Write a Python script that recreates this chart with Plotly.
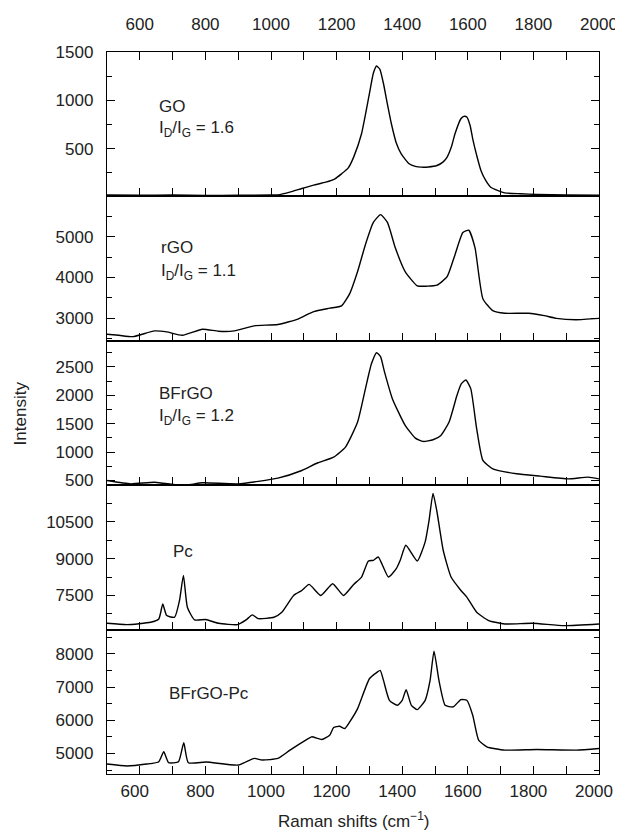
import plotly.graph_objects as go
from plotly.subplots import make_subplots

# ---- data ----
go_x = [500, 600, 700, 800, 900, 1000, 1021, 1060, 1094, 1130, 1167, 1195, 1215, 1235, 1252, 1276, 1300, 1312, 1322, 1332, 1343, 1355, 1367, 1382, 1397, 1421, 1440, 1458, 1480, 1506, 1525, 1537, 1550, 1561, 1579, 1588, 1597, 1607, 1616, 1628, 1640, 1655, 1670, 1713, 1760, 1810, 1900, 2000]
go_y = [22, 20, 22, 18, 20, 22, 24, 55, 90, 125, 155, 190, 241, 300, 414, 655, 1069, 1280, 1355, 1320, 1172, 960, 759, 560, 448, 345, 318, 310, 312, 327, 365, 414, 520, 655, 810, 835, 828, 740, 586, 420, 276, 170, 103, 45, 35, 28, 22, 20]

rgo_x = [500, 536, 579, 645, 682, 730, 791, 840, 888, 949, 1021, 1082, 1130, 1179, 1215, 1240, 1264, 1288, 1312, 1334, 1355, 1379, 1409, 1446, 1476, 1506, 1537, 1561, 1585, 1603, 1622, 1646, 1676, 1713, 1785, 1833, 1870, 1930, 2000]
rgo_y = [2600, 2575, 2542, 2683, 2658, 2575, 2725, 2675, 2683, 2808, 2842, 2975, 3158, 3242, 3300, 3600, 4142, 4808, 5350, 5542, 5350, 4725, 4142, 3792, 3783, 3808, 4017, 4558, 5100, 5158, 4725, 3475, 3183, 3117, 3117, 3058, 2992, 2958, 2992]

bfrgo_x = [500, 573, 645, 730, 791, 900, 1021, 1094, 1143, 1191, 1227, 1264, 1288, 1306, 1322, 1334, 1346, 1370, 1409, 1440, 1464, 1494, 1518, 1543, 1567, 1580, 1594, 1609, 1627, 1646, 1676, 1749, 1821, 1906, 1967, 2000]
bfrgo_y = [500, 441, 470, 412, 459, 441, 541, 676, 812, 912, 1088, 1529, 2118, 2550, 2750, 2680, 2412, 1941, 1471, 1247, 1188, 1218, 1294, 1529, 2000, 2200, 2270, 2118, 1412, 853, 706, 618, 576, 529, 559, 529]

pc_x = [500, 561, 633, 658, 670, 682, 706, 721, 733, 745, 767, 801, 840, 898, 924, 943, 961, 1009, 1033, 1069, 1094, 1116, 1152, 1188, 1221, 1252, 1276, 1297, 1312, 1327, 1358, 1382, 1394, 1411, 1446, 1470, 1482, 1494, 1506, 1525, 1549, 1579, 1597, 1627, 1664, 1713, 1797, 1894, 2000]
pc_y = [6367, 6312, 6408, 6545, 7150, 6681, 6613, 7295, 8318, 7022, 6504, 6520, 6367, 6312, 6504, 6708, 6558, 6613, 6817, 7500, 7704, 7950, 7500, 7977, 7500, 7950, 8250, 8904, 8931, 9068, 8250, 8590, 8931, 9545, 8904, 9682, 10568, 11659, 10909, 9341, 8250, 7704, 7432, 6817, 6477, 6340, 6367, 6272, 6340]

bp_x = [500, 561, 621, 658, 673, 688, 718, 734, 748, 803, 900, 949, 973, 1021, 1058, 1106, 1124, 1155, 1179, 1191, 1209, 1225, 1240, 1264, 1300, 1324, 1333, 1343, 1361, 1385, 1400, 1412, 1428, 1446, 1470, 1485, 1497, 1512, 1531, 1555, 1579, 1597, 1615, 1633, 1658, 1713, 1810, 1931, 2000]
bp_y = [4680, 4620, 4680, 4750, 5050, 4720, 4750, 5320, 4720, 4740, 4650, 4850, 4800, 4850, 5100, 5400, 5500, 5420, 5550, 5780, 5820, 5750, 5950, 6350, 7250, 7450, 7500, 7200, 6600, 6450, 6600, 6920, 6450, 6320, 6600, 7200, 8080, 7200, 6450, 6400, 6620, 6600, 6150, 5400, 5200, 5100, 5120, 5100, 5150]

panels = [
    dict(x=go_x, y=go_y, yrange=[8, 1500], dtick=500, minor=250,
         labels=["GO", "I<sub>D</sub>/I<sub>G</sub> = 1.6"], lx=651, ly=[938, 707]),
    dict(x=rgo_x, y=rgo_y, yrange=[2440, 5990], dtick=1000, minor=500,
         labels=["rGO", "I<sub>D</sub>/I<sub>G</sub> = 1.1"], lx=657, ly=[4725, 4142]),
    dict(x=bfrgo_x, y=bfrgo_y, yrange=[417, 2960], dtick=500, minor=250,
         labels=["BFrGO", "I<sub>D</sub>/I<sub>G</sub> = 1.2"], lx=651, ly=[2029, 1618]),
    dict(x=pc_x, y=pc_y, yrange=[6110, 11990], dtick=1500, minor=750,
         labels=["Pc"], lx=694, ly=[9300]),
    dict(x=bp_x, y=bp_y, yrange=[4380, 8730], dtick=1000, minor=500,
         labels=["BFrGO-Pc"], lx=682, ly=[6800]),
]

FONT = "Liberation Sans, Arial, sans-serif"
TXT = "#222"
FS = 17
xaxis_style = dict(range=[500, 2000], tick0=0, dtick=200,
                   ticks="inside", ticklen=8, tickwidth=1.2, tickcolor="black",
                   minor=dict(dtick=100, tick0=0, ticks="inside", ticklen=8,
                              tickwidth=1.2, tickcolor="black", showgrid=False),
                   showgrid=False, zeroline=False, automargin=False,
                   ticklabeloverflow="allow",
                   tickfont=dict(family=FONT, size=FS, color=TXT))

fig = make_subplots(rows=5, cols=1, shared_xaxes=True, vertical_spacing=0)

for i, p in enumerate(panels, start=1):
    fig.add_trace(go.Scatter(x=p["x"], y=p["y"], mode="lines",
                             line=dict(color="black", width=1.4, shape="spline", smoothing=0.5),
                             showlegend=False, hoverinfo="skip"), row=i, col=1)
    fig.update_yaxes(row=i, col=1, range=p["yrange"], tick0=0, dtick=p["dtick"],
                     tickformat="d",
                     ticks="inside", ticklen=8, tickwidth=1.2, tickcolor="black",
                     showline=True, linecolor="black", linewidth=1.3, mirror="ticks",
                     showgrid=False, zeroline=False, automargin=False,
                     ticklabelstandoff=9, ticklabeloverflow="allow",
                     minor=dict(dtick=p["minor"], tick0=0, ticks="inside",
                                ticklen=5, tickcolor="black", tickwidth=1.2, showgrid=False),
                     tickfont=dict(family=FONT, size=FS, color=TXT))
    fig.update_xaxes(row=i, col=1, showline=True, linecolor="black", linewidth=1.1,
                     mirror=True, showticklabels=(i == 5), ticklabelstandoff=2,
                     ticklabelshift=-5, **xaxis_style)
    yref = "y" if i == 1 else f"y{i}"
    xref = "x" if i == 1 else f"x{i}"
    for lab, ly in zip(p["labels"], p["ly"]):
        fig.add_annotation(x=p["lx"], y=ly, xref=xref, yref=yref, text=lab,
                           showarrow=False, xanchor="left", yanchor="middle",
                           font=dict(family=FONT, size=FS, color=TXT))

# top x axis over first panel
fig.add_trace(go.Scatter(x=[500, 2000], y=[None, None], xaxis="x6", yaxis="y",
                         showlegend=False, hoverinfo="skip"))
fig.update_layout(xaxis6=dict(overlaying="x", side="top", anchor="y", showline=False,
                              ticklabelstandoff=18, **xaxis_style))

fig.add_annotation(x=0.5, y=-0.064, xref="paper", yref="paper",
                   text="Raman shifts (cm<sup>\u22121</sup>)", showarrow=False,
                   xanchor="center", yanchor="middle",
                   font=dict(family=FONT, size=FS, color=TXT))
fig.add_annotation(x=-0.176, y=0.5, xref="paper", yref="paper", text="Intensity",
                   showarrow=False, textangle=-90, xanchor="center", yanchor="middle",
                   font=dict(family=FONT, size=FS, color=TXT))

fig.update_layout(width=615, height=829, plot_bgcolor="white", paper_bgcolor="white",
                  margin=dict(l=98.5, r=23.7, t=44, b=63), showlegend=False)

fig.write_html("out.html")
